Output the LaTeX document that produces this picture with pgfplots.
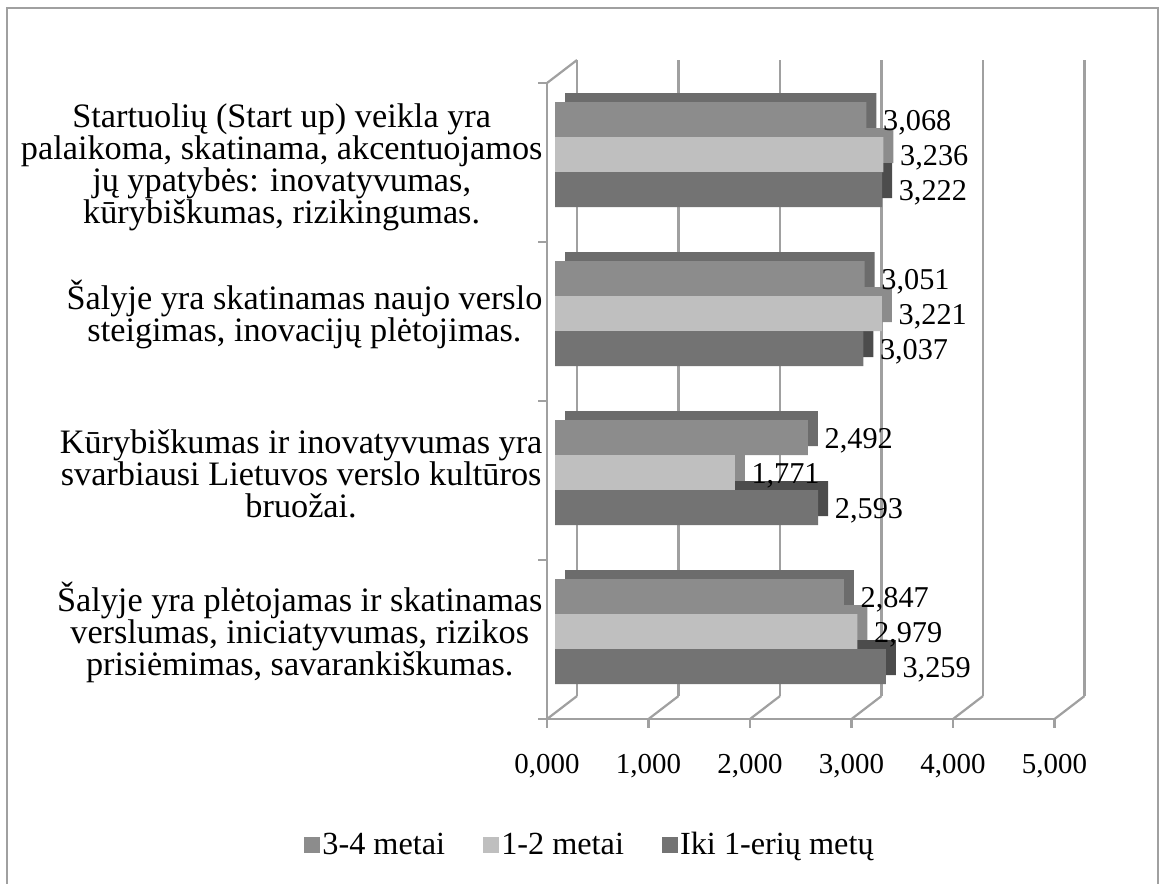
\documentclass[border=0pt]{standalone}
\usepackage{fontspec}
\setmainfont{Liberation Serif}
\usepackage{pgfplots}
\pgfplotsset{compat=1.18}
\definecolor{cA}{RGB}{140,140,140}
\definecolor{cAd}{RGB}{108,108,108}
\definecolor{cB}{RGB}{191,191,191}
\definecolor{cBd}{RGB}{140,140,140}
\definecolor{cC}{RGB}{115,115,115}
\definecolor{cCd}{RGB}{76,76,76}
\definecolor{gridc}{RGB}{160,160,160}
\newcommand{\catfont}{\fontsize{15.4}{14.4}\selectfont\lineskiplimit=-\maxdimen\relax}
\newcommand{\tickfont}{\fontsize{13}{15.6}\selectfont}
\newcommand{\valfont}{\fontsize{13.6}{16}\selectfont}
\newcommand{\legfont}{\fontsize{14.5}{17}\selectfont}
\begin{document}
\begin{tikzpicture}
\path[use as bounding box] (0pt,0pt) rectangle (521.30pt,-396.82pt);
\begin{scope}[x=0.4494pt,y=-0.4494pt]
\draw[gridc, line width=1pt] (7,900) -- (7,8) -- (1158,8) -- (1158,900);
\foreach \i in {0,...,5} {
  \draw[gridc, line width=1pt] ({577+101.5*\i},60) -- ({577+101.5*\i},696);
  \draw[gridc, line width=1pt] ({547+101.5*\i},719) -- ({577+101.5*\i},696);
  \draw[gridc, line width=1pt] ({547+101.5*\i},719) -- ({547+101.5*\i},728);
}
\draw[gridc, line width=1pt] (547,83) -- (577,60);
\draw[gridc, line width=1pt] (547,83) -- (547,719) -- (1054.5,719);
\foreach \y in {83,242,401,560,719} \draw[gridc, line width=1pt] (538,\y) -- (547,\y);
\end{scope}
\begin{axis}[
  at={(249.42pt,-319.52pt)}, anchor=south west,
  scale only axis, width=228.07pt, height=285.82pt,
  xmin=0, xmax=5, ymin=-0.5, ymax=3.5,
  xbar, bar width=15.73pt,
  axis line style={draw=none}, tick style={draw=none},
  xtick={0,1,2,3,4,5},
  xticklabels={{0,000},{1,000},{2,000},{3,000},{4,000},{5,000}},
  ytick={0,1,2,3},
  yticklabels={
    {Šalyje yra plėtojamas ir skatinamas\\verslumas, iniciatyvumas, rizikos\\prisiėmimas, savarankiškumas.},
    {Kūrybiškumas ir inovatyvumas yra\\svarbiausi Lietuvos verslo kultūros\\bruožai.},
    {Šalyje yra skatinamas naujo verslo\\steigimas, inovacijų plėtojimas.},
    {\rule{0pt}{21pt}Startuolių (Start up) veikla yra\\palaikoma, skatinama, akcentuojamos\\jų ypatybės: inovatyvumas,\\kūrybiškumas, rizikingumas.}},
  xticklabel style={xshift=-3.6pt, yshift=-16pt, font=\tickfont},
  yticklabel style={align=center, inner sep=0pt, xshift=-1.2pt, yshift=-0.6pt, font=\catfont},
  point meta=x,
  nodes near coords style={anchor=west, xshift=4pt, yshift=-1.5pt, font=\valfont, text=black},
  legend columns=3,
  legend style={draw=none, fill=none, font=\legfont, at={(0.069,-0.2107)}, anchor=center,
    nodes={inner sep=1pt},
    /tikz/every even column/.append style={column sep=16pt}},
  clip=false,
]
% depth faces
\addplot[forget plot, fill=cAd, draw=none, bar shift=15.73pt, xshift=4.5pt, yshift=4pt]
  coordinates {(2.847,0) (2.492,1) (3.051,2) (3.068,3)};
\addplot[forget plot, fill=cBd, draw=none, bar shift=0pt, xshift=4.5pt, yshift=4pt]
  coordinates {(2.979,0) (1.771,1) (3.221,2) (3.236,3)};
\addplot[forget plot, fill=cCd, draw=none, bar shift=-15.73pt, xshift=4.5pt, yshift=4pt]
  coordinates {(3.259,0) (2.593,1) (3.037,2) (3.222,3)};
% front faces
\addplot[fill=cA, draw=none, bar shift=15.73pt,
  nodes near coords={\pgfmathprintnumber[fixed,fixed zerofill,precision=3,use comma,assume math mode=true]{\pgfplotspointmeta}},
  legend image code/.code={\fill[cA] (0pt,-3.6pt) rectangle (7.2pt,3.6pt);}]
  coordinates {(2.847,0) (2.492,1) (3.051,2) (3.068,3)};
\addplot[fill=cB, draw=none, bar shift=0pt,
  nodes near coords={\pgfmathprintnumber[fixed,fixed zerofill,precision=3,use comma,assume math mode=true]{\pgfplotspointmeta}},
  legend image code/.code={\fill[cB] (0pt,-3.6pt) rectangle (7.2pt,3.6pt);}]
  coordinates {(2.979,0) (1.771,1) (3.221,2) (3.236,3)};
\addplot[fill=cC, draw=none, bar shift=-15.73pt,
  nodes near coords={\pgfmathprintnumber[fixed,fixed zerofill,precision=3,use comma,assume math mode=true]{\pgfplotspointmeta}},
  legend image code/.code={\fill[cC] (0pt,-3.6pt) rectangle (7.2pt,3.6pt);}]
  coordinates {(3.259,0) (2.593,1) (3.037,2) (3.222,3)};
\legend{3-4 metai, 1-2 metai, Iki 1-erių metų}
\end{axis}
\end{tikzpicture}
\end{document}
